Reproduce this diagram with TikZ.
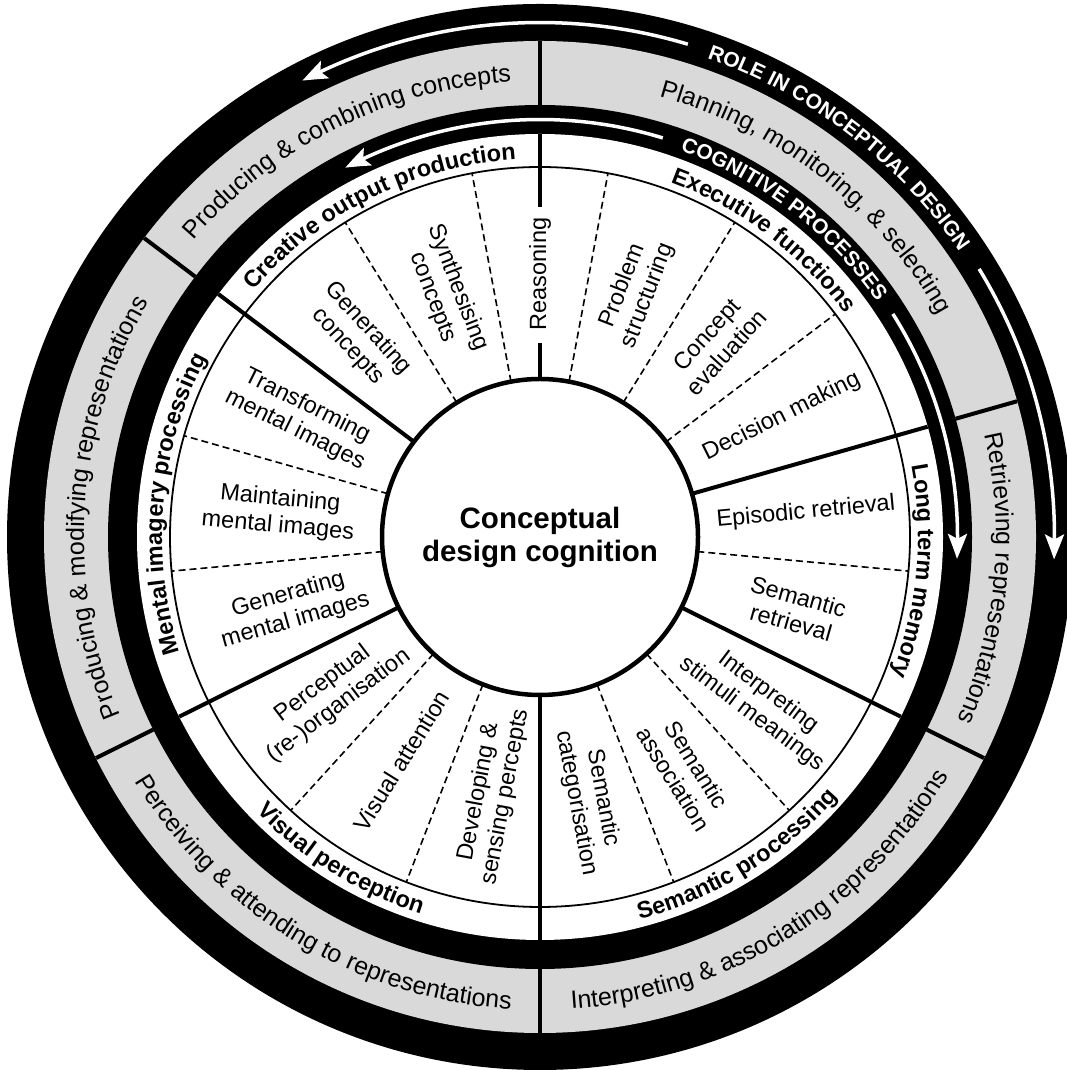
\documentclass[tikz,border=0pt]{standalone}
\usepackage{fontspec}
\setmainfont{Liberation Sans}
\usepackage{xcolor}
\usepackage{tikz}
\usetikzlibrary{decorations.text, arrows.meta, bending}

\definecolor{rolegray}{RGB}{217,217,217}
\newcommand{\rolefont}{\fontsize{25}{25}\selectfont}
\newcommand{\catfont}{\fontsize{23.5}{23.5}\selectfont\bfseries}
\newcommand{\bandfont}{\fontsize{21}{21}\selectfont\bfseries}

\begin{document}
\begin{tikzpicture}[x=1pt, y=1pt]
    \tikzstyle{proc} = [font=\fontsize{23.5}{27}\selectfont, align=center, inner sep=0pt];
    \tikzstyle{dashsep} = [line width=1.6pt, dash pattern=on 7pt off 4pt];
    \tikzstyle{divider} = [line width=4pt];
    \tikzstyle{flow} = [white, line width=3.5pt, -{Stealth[length=25pt, width=19pt, inset=5pt, bend]}];
    \tikzstyle{curved} = [decorate, decoration={text along path, text align=center}];

    \useasboundingbox (0,0) rectangle (1067,1070);
    \begin{scope}[shift={(540,533)}]
    % rings
    \fill[black] (0,0) circle (533);
    \fill[rolegray] (0,0) circle (496);
    \fill[black] (0,0) circle (432);
    \fill[white] (0,0) circle (403);
    \draw[line width=1.8pt] (0,0) circle (370);

    % dashed borders between processes
    \foreach \k in {1,2,4,6,7,8,9,10,12,13,15,16}
        \draw[dashsep] ({270+\k*360/17}:158) -- ({270+\k*360/17}:370);

    % borders of categories and roles
    \foreach \k in {0,3,5,11,14} {
        \draw[divider] ({270+\k*360/17}:158) -- ({270+\k*360/17}:403);
        \draw[divider] ({270+\k*360/17}:432) -- ({270+\k*360/17}:496);
    }
    \draw[divider] (90:158) -- (90:194);
    \draw[divider] (90:330) -- (90:403);
    \draw[divider] (90:432) -- (90:496);

    \draw[line width=4.5pt, fill=white] (0,0) circle (158);
    \node[font=\fontsize{29.5}{33}\selectfont\bfseries, align=center] (core) at (0,0) {Conceptual\\design cognition};

    % processes
    \foreach \k/\r/\txt in {0/268/{Semantic\\categorisation}, 1/276/{Semantic\\association},
            2/276/{Interpreting\\stimuli meanings}, 3/265/{Semantic\\retrieval},
            4/267/{Episodic retrieval}, 5/270/{Decision making}, 6/262/{Concept\\evaluation},
            7/264/{Problem\\structuring}, 8/263/{Reasoning}, 9/262/{Synthesising\\concepts},
            10/270/{Generating\\concepts}, 11/267/{Transforming\\mental images},
            12/262/{Maintaining\\mental images}, 13/258/{Generating\\mental images},
            14/262/{Perceptual\\(re-)organisation}, 15/263/{Visual attention},
            16/262/{Developing \&\\sensing percepts}} {
        \pgfmathsetmacro{\ang}{270+(\k+0.5)*360/17}
        \pgfmathsetmacro{\rot}{\k<9 ? \ang : \ang-180}
        \node[proc, rotate=\rot] (p\k) at (\ang:\r) {\txt};
    }

    % categories
    \path[curved, decoration={text={|\catfont|Creative output production}}] (148:378) arc[start angle=148, end angle=85, radius=378];
    \path[curved, decoration={text={|\catfont|Executive functions}}] (95:378) arc[start angle=95, end angle=11, radius=378];
    \path[curved, decoration={text={|\catfont|Long term memory}}] (20.9:378) arc[start angle=20.9, end angle=-31.5, radius=378];
    \path[curved, decoration={text={|\catfont|Mental imagery processing}}] (211.5:378) arc[start angle=211.5, end angle=138, radius=378];
    \path[curved, decoration={text={|\catfont|Visual perception}}] (201.5:395) arc[start angle=201.5, end angle=275, radius=395];
    \path[curved, decoration={text={|\catfont|Semantic processing}}] (265:395) arc[start angle=265, end angle=338.5, radius=395];

    % roles
    \path[curved, decoration={text={|\rolefont|Planning, monitoring, {\&} selecting}}] (95:456) arc[start angle=95, end angle=9, radius=456];
    \path[curved, decoration={text={|\rolefont|Producing {\&} combining concepts}}] (148:456) arc[start angle=148, end angle=85, radius=456];
    \path[curved, decoration={text={|\rolefont|Producing {\&} modifying representations}}] (214:456) arc[start angle=214, end angle=138, radius=456];
    \path[curved, decoration={text={|\rolefont|Perceiving {\&} attending to representations}}] (201.5:473) arc[start angle=201.5, end angle=276, radius=473];
    \path[curved, decoration={text={|\rolefont|Interpreting {\&} associating representations}}] (265:473) arc[start angle=265, end angle=338.5, radius=473];
    \path[curved, decoration={text={|\rolefont|Retrieving representations}}] (20.9:456) arc[start angle=20.9, end angle=-31.5, radius=456];

    % band titles and arrows
    \path[curved, decoration={text color=white, text={|\bandfont|ROLE IN CONCEPTUAL DESIGN}}] (72.5:507) arc[start angle=72.5, end angle=32.5, radius=507];
    \path[curved, decoration={text color=white, text={|\bandfont|COGNITIVE PROCESSES}}] (72.5:411) arc[start angle=72.5, end angle=32.5, radius=411];
    \draw[flow] (73.3:514.5) arc[start angle=73.3, end angle=117.5, radius=514.5];
    \draw[flow] (31.4:514.5) arc[start angle=31.4, end angle=-2.5, radius=514.5];
    \draw[flow] (72.9:417.5) arc[start angle=72.9, end angle=117.8, radius=417.5];
    \draw[flow] (32.3:417.5) arc[start angle=32.3, end angle=-3, radius=417.5];
    \end{scope}
\end{tikzpicture}
\end{document}
